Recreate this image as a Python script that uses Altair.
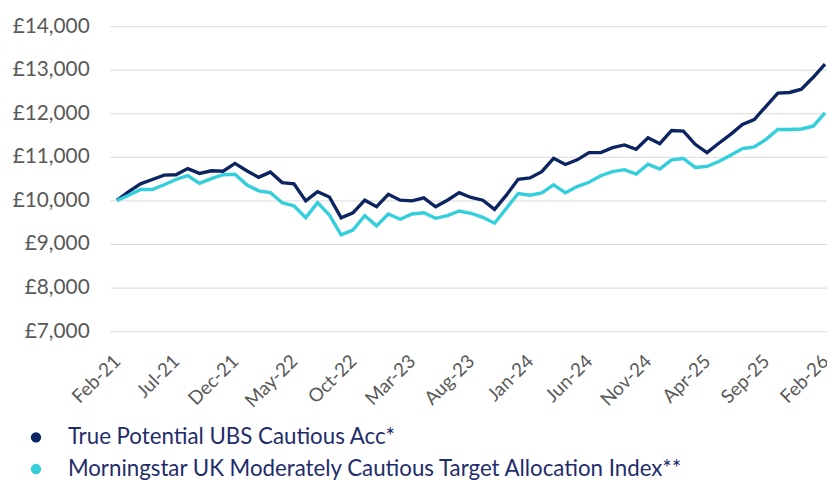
import altair as alt
import pandas as pd

months = [d.strftime("%b-%y") for d in pd.date_range("2021-02-01", "2026-02-01", freq="MS")]

fund_name = "True Potential UBS Cautious Acc*"
index_name = "Morningstar UK Moderately Cautious Target Allocation Index**"

fund = [10000, 10200, 10380, 10480, 10580, 10590, 10730, 10620, 10680, 10670, 10850,
        10680, 10530, 10650, 10410, 10380, 9990, 10200, 10080, 9600, 9715,
        10005, 9855, 10140, 10005, 9990, 10060, 9855, 10005, 10180, 10068,
        10005, 9795, 10120, 10484, 10515, 10660, 10965, 10825, 10932, 11098,
        11098, 11212, 11273, 11174, 11439, 11303, 11606, 11591, 11288, 11098,
        11311, 11515, 11742, 11856, 12159, 12462, 12477, 12553, 12826, 13129]

index = [10000, 10120, 10250, 10250, 10360, 10480, 10570, 10390, 10500, 10590, 10600,
         10360, 10220, 10180, 9945, 9877, 9605, 9950, 9666, 9211, 9320,
         9650, 9416, 9689, 9568, 9689, 9718, 9590, 9650, 9757, 9705,
         9613, 9477, 9818, 10159, 10120, 10175, 10360, 10174, 10318, 10417,
         10568, 10659, 10705, 10606, 10833, 10720, 10932, 10962, 10758, 10780,
         10894, 11038, 11189, 11227, 11402, 11629, 11629, 11640, 11705, 12007]

tick_idx = list(range(0, 61, 5))
y_ticks = [7000, 8000, 9000, 10000, 11000, 12000, 13000, 14000]

rows = []
for i, m in enumerate(months):
    rows.append({"i": i, "month": m, "series": fund_name, "value": fund[i]})
    rows.append({"i": i, "month": m, "series": index_name, "value": index[i]})
df = pd.DataFrame(rows)

label_expr = "[" + ",".join(f"'{m}'" for m in months) + "][datum.value]"

font = "Lato"
chart = alt.Chart(df).mark_line(strokeWidth=3.4, strokeJoin="miter").encode(
    x=alt.X("i:Q",
            scale=alt.Scale(domain=[-0.587, 60.168], nice=False, zero=False),
            axis=alt.Axis(values=tick_idx, labelExpr=label_expr, title=None,
                          grid=False, domain=False, ticks=False,
                          labelAngle=-45, labelAlign="right", labelBaseline="middle",
                          labelPadding=27, labelFontSize=19, labelColor="#595959",
                          labelFont=font, labelOverlap=False, labelBound=False)),
    y=alt.Y("value:Q",
            scale=alt.Scale(domain=[7000, 14000], nice=False, zero=False),
            axis=alt.Axis(values=y_ticks, labelExpr="'£' + format(datum.value, ',')",
                          title=None, domain=False, ticks=False, grid=True,
                          gridColor="#d9d9d9", gridWidth=1,
                          labelFontSize=21, labelColor="#595959", labelFont=font,
                          labelPadding=21)),
    color=alt.Color("series:N",
                    scale=alt.Scale(domain=[fund_name, index_name],
                                    range=["#0c2461", "#33cfdc"]),
                    legend=alt.Legend(title=None, orient="none", legendX=-86, legendY=404,
                                      symbolType="circle", symbolSize=30,
                                      symbolStrokeWidth=5,
                                      labelFontSize=22.5, labelColor="#1f2d6b",
                                      labelFont=font, labelLimit=900,
                                      rowPadding=6, labelOffset=21)),
    order="i:Q",
).properties(
    width=724, height=308,
    autosize=alt.AutoSizeParams(type="none"),
    padding={"left": 103, "top": 16, "right": 0, "bottom": 148},
).configure_view(stroke=None)

chart.save("out.html", embed_options={"renderer": "svg", "actions": False})
